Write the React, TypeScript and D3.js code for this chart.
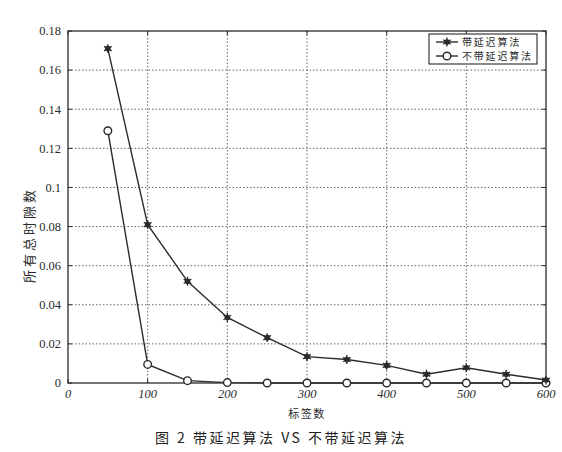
// @ts-nocheck
import { useEffect, useRef } from 'react';
import * as d3 from 'd3';

// data
const labelCounts = [50, 100, 150, 200, 250, 300, 350, 400, 450, 500, 550, 600];
const withDelay = [0.171, 0.081, 0.052, 0.0335, 0.0232, 0.0135, 0.012, 0.009, 0.0045, 0.0078, 0.0045, 0.0015];
const withoutDelay = [0.129, 0.0095, 0.0012, 0.0002, 0, 0, 0, 0, 0, 0, 0, 0];
const xTicks = [0, 100, 200, 300, 400, 500, 600];
const yTicks = [0, 0.02, 0.04, 0.06, 0.08, 0.1, 0.12, 0.14, 0.16, 0.18];
const seriesNames = ['带延迟算法', '不带延迟算法'];

const W = 562;
const H = 452;
const INK = '#2b2b2b';
const SERIF = '"Liberation Serif", "DejaVu Serif", serif';
const CJK = '"Noto Sans CJK SC", sans-serif';

export default function App() {
  const svgRef = useRef<SVGSVGElement>(null);

  useEffect(() => {
    const svg = d3.select(svgRef.current);
    svg.selectAll('*').remove();

    const left = 68, right = 546, top = 31, bottom = 383;
    const x = d3.scaleLinear().domain([0, 600]).range([left, right]);
    const y = d3.scaleLinear().domain([0, 0.18]).range([bottom, top]);

    svg.append('rect').attr('width', W).attr('height', H).attr('fill', '#fff');

    // dotted grid
    const grid = svg.append('g');
    xTicks.slice(1, -1).forEach((t) => {
      grid.append('line')
        .attr('x1', x(t)).attr('x2', x(t)).attr('y1', top).attr('y2', bottom)
        .attr('stroke', '#555').attr('stroke-width', 0.9).attr('stroke-dasharray', '1.5,2');
    });
    yTicks.slice(1, -1).forEach((t) => {
      grid.append('line')
        .attr('x1', left).attr('x2', right).attr('y1', y(t)).attr('y2', y(t))
        .attr('stroke', '#555').attr('stroke-width', 0.9).attr('stroke-dasharray', '1.5,2');
    });

    // frame
    svg.append('rect')
      .attr('x', left).attr('y', top).attr('width', right - left).attr('height', bottom - top)
      .attr('fill', 'none').attr('stroke', INK).attr('stroke-width', 1.3);

    // y ticks
    yTicks.forEach((t) => {
      svg.append('line').attr('x1', left).attr('x2', left + 4).attr('y1', y(t)).attr('y2', y(t))
        .attr('stroke', INK);
      svg.append('line').attr('x1', right).attr('x2', right - 4).attr('y1', y(t)).attr('y2', y(t))
        .attr('stroke', INK);
      svg.append('text')
        .attr('x', left - 7).attr('y', y(t)).attr('dy', '0.35em')
        .attr('text-anchor', 'end').attr('font-family', SERIF).attr('font-size', 12.5)
        .attr('fill', INK)
        .text(t === 0 ? '0' : String(+t.toFixed(2)));
    });

    // x ticks
    xTicks.forEach((t) => {
      svg.append('line').attr('x1', x(t)).attr('x2', x(t)).attr('y1', bottom).attr('y2', bottom - 4)
        .attr('stroke', INK);
      svg.append('line').attr('x1', x(t)).attr('x2', x(t)).attr('y1', top).attr('y2', top + 4)
        .attr('stroke', INK);
      svg.append('text')
        .attr('x', x(t)).attr('y', bottom + 15)
        .attr('text-anchor', 'middle').attr('font-family', SERIF).attr('font-size', 12.5)
        .attr('font-style', 'italic').attr('fill', INK)
        .text(String(t));
    });

    const line = d3.line<number>()
      .x((_, i) => x(labelCounts[i]))
      .y((d) => y(d));

    const drawStar = (g, cx, cy) => {
      g.append('circle').attr('cx', cx).attr('cy', cy).attr('r', 2.8).attr('fill', INK);
      g.append('path')
        .attr('d', d3.symbol(d3.symbolAsterisk, 55)())
        .attr('transform', `translate(${cx},${cy})`)
        .attr('stroke', INK).attr('stroke-width', 1.3).attr('fill', 'none');
    };
    const drawCircle = (g, cx, cy) => {
      g.append('circle').attr('cx', cx).attr('cy', cy).attr('r', 3.8)
        .attr('fill', '#fff').attr('stroke', INK).attr('stroke-width', 1.4);
    };

    // series
    const s2 = svg.append('g');
    s2.append('path').datum(withoutDelay).attr('d', line)
      .attr('fill', 'none').attr('stroke', INK).attr('stroke-width', 1.4);
    withoutDelay.forEach((v, i) => drawCircle(s2, x(labelCounts[i]), y(v)));

    const s1 = svg.append('g');
    s1.append('path').datum(withDelay).attr('d', line)
      .attr('fill', 'none').attr('stroke', INK).attr('stroke-width', 1.4);
    withDelay.forEach((v, i) => drawStar(s1, x(labelCounts[i]), y(v)));

    // legend
    const lg = svg.append('g');
    lg.append('rect').attr('x', 429).attr('y', 34).attr('width', 108).attr('height', 30)
      .attr('fill', '#fff').attr('stroke', INK).attr('stroke-width', 1.1);
    seriesNames.forEach((name, i) => {
      const ly = 42 + i * 14;
      lg.append('line').attr('x1', 436).attr('x2', 458).attr('y1', ly).attr('y2', ly)
        .attr('stroke', INK).attr('stroke-width', 1.4);
      if (i === 0) drawStar(lg, 447, ly);
      else drawCircle(lg, 447, ly);
      lg.append('text').attr('x', 462).attr('y', ly).attr('dy', '0.35em')
        .attr('font-family', CJK).attr('font-size', 10).attr('letter-spacing', 1.8)
        .attr('fill', INK).text(name);
    });

    // axis titles
    svg.append('text')
      .attr('transform', `translate(29,235) rotate(-90)`)
      .attr('text-anchor', 'middle').attr('dy', '0.35em')
      .attr('font-family', CJK).attr('font-size', 13).attr('letter-spacing', 3)
      .attr('fill', INK).text('所有总时隙数');

    svg.append('text')
      .attr('x', x(300)).attr('y', 418)
      .attr('text-anchor', 'middle').attr('font-family', CJK).attr('font-size', 11)
      .attr('letter-spacing', 1.5).attr('fill', INK).text('标签数');

    svg.append('text')
      .attr('x', 281).attr('y', 443)
      .attr('text-anchor', 'middle').attr('font-family', CJK).attr('font-size', 14)
      .attr('letter-spacing', 2.5).attr('fill', '#222')
      .text('图 2 带延迟算法 VS 不带延迟算法');
  }, []);

  return (
    <svg
      ref={svgRef}
      width={W}
      height={H}
      style={{ position: 'absolute', left: 0, top: 0, display: 'block' }}
    />
  );
}
